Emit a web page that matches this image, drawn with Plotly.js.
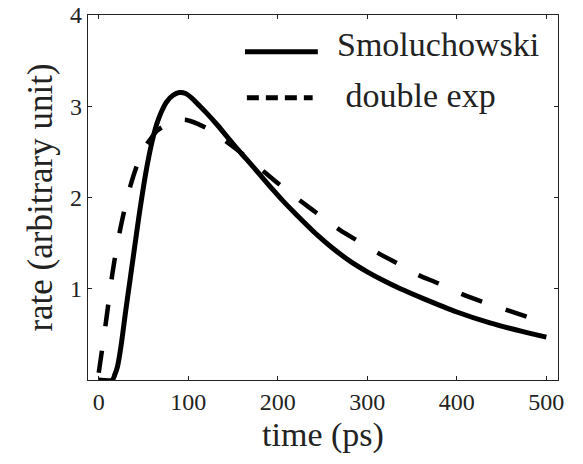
<!DOCTYPE html>
<html>
<head>
<meta charset="utf-8">
<script src="https://cdn.plot.ly/plotly-3.0.1.min.js"></script>
<style>html,body{margin:0;padding:0;background:#fff;}#chart{width:583px;height:464px;}</style>
</head>
<body>
<div id="chart"></div>
<script>
// Smoluchowski curve
const smolTime = [0, 15, 18, 21, 25, 30, 35, 40, 45, 50, 55, 60, 65, 70, 76, 83, 90, 97, 104, 110, 120, 132, 143, 154, 165, 180, 195, 206, 220, 244, 260, 281, 300, 318, 337, 362, 400, 437, 474, 500];
const smolRate = [0, 0, 0.06, 0.15, 0.38, 0.75, 1.1, 1.45, 1.8, 2.12, 2.4, 2.63, 2.81, 2.94, 3.05, 3.12, 3.15, 3.14, 3.09, 3.03, 2.93, 2.80, 2.67, 2.54, 2.42, 2.25, 2.08, 1.96, 1.82, 1.59, 1.455, 1.30, 1.185, 1.09, 1.00, 0.895, 0.745, 0.625, 0.53, 0.47];
// double exponential curve
const dexpTime = [0, 5, 10, 15, 20, 25, 30, 36, 44, 50, 57, 65, 74, 82, 90, 98, 110, 124, 140, 155, 170, 186, 206, 227, 249, 270, 292, 314, 337, 357, 379, 401, 428, 452, 479];
const dexpRate = [0.08, 0.42, 0.78, 1.15, 1.45, 1.7, 1.92, 2.15, 2.39, 2.53, 2.63, 2.73, 2.79, 2.83, 2.85, 2.85, 2.81, 2.74, 2.63, 2.52, 2.40, 2.27, 2.11, 1.95, 1.79, 1.64, 1.51, 1.38, 1.26, 1.15, 1.06, 0.96, 0.86, 0.78, 0.69];
const seriesNames = ["Smoluchowski", " double exp"];
const xTicks = [0, 100, 200, 300, 400, 500];
const yTicks = [1, 2, 3, 4];
const xTitle = "time (ps)";
const yTitle = "rate (arbitrary unit)";

const font = "Liberation Serif, Times New Roman, serif";

const traces = [
  {x: smolTime, y: smolRate, mode: "lines", name: seriesNames[0],
   line: {color: "#000", width: 5, shape: "spline", smoothing: 0.8}, showlegend: false},
  {x: dexpTime, y: dexpRate, mode: "lines", name: seriesNames[1],
   line: {color: "#000", width: 4.5, dash: "22px,25px", shape: "spline", smoothing: 0.8}, showlegend: false}
];

const axisCommon = {
  showline: true, linecolor: "#222", linewidth: 1.2, mirror: "ticks",
  ticks: "inside", ticklen: 4, tickcolor: "#222", tickwidth: 1,
  showgrid: false, zeroline: false,
  tickfont: {family: font, size: 24, color: "#222"}
};

const layout = {
  width: 583, height: 464,
  margin: {l: 88, r: 25, t: 15, b: 84},
  paper_bgcolor: "#fff", plot_bgcolor: "#fff",
  font: {family: font, color: "#222"},
  xaxis: Object.assign({}, axisCommon, {
    range: [-12, 513], tickvals: xTicks, ticktext: xTicks.map(String),
    title: {text: xTitle, font: {family: font, size: 34, color: "#222"}, standoff: 8}
  }),
  yaxis: Object.assign({}, axisCommon, {
    range: [0, 4], tickvals: yTicks, ticktext: yTicks.map(String),
    title: {text: yTitle, font: {family: font, size: 35, color: "#222"}, standoff: 6}
  }),
  shapes: [
    {type: "line", xref: "paper", yref: "paper", x0: 0.334, x1: 0.489, y0: 0.899, y1: 0.899,
     line: {color: "#000", width: 5}},
    {type: "line", xref: "paper", yref: "paper", x0: 0.338, x1: 0.478, y0: 0.773, y1: 0.773,
     line: {color: "#000", width: 5, dash: "12px,7px"}}
  ],
  annotations: [
    {xref: "paper", yref: "paper", x: 0.526, y: 0.918, xanchor: "left", yanchor: "middle",
     text: seriesNames[0], showarrow: false, font: {family: font, size: 34, color: "#222"}},
    {xref: "paper", yref: "paper", x: 0.526, y: 0.779, xanchor: "left", yanchor: "middle",
     text: seriesNames[1], showarrow: false, font: {family: font, size: 34, color: "#222"}}
  ]
};

Plotly.newPlot("chart", traces, layout, {displayModeBar: false, staticPlot: true});
</script>
</body>
</html>
